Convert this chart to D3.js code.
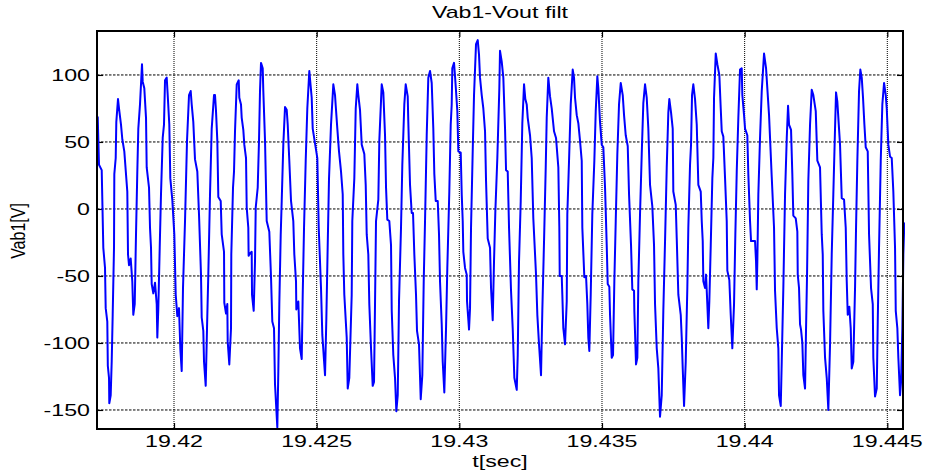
<!DOCTYPE html>
<html><head><meta charset="utf-8">
<script src="https://cdn.jsdelivr.net/npm/d3@7"></script>
<style>body{margin:0;background:#fff}svg{display:block}</style>
</head><body><svg id="c" width="929" height="471"></svg>
<script>
const titleText = "Vab1-Vout filt";
const xLabelText = "t[sec]";
const yLabelText = "Vab1[V]";
const xTicks = [19.42, 19.425, 19.43, 19.435, 19.44, 19.445];
const xTickLabels = ["19.42", "19.425", "19.43", "19.435", "19.44", "19.445"];
const yTicks = [-150, -100, -50, 0, 50, 100];
const yTickLabels = ["-150", "-100", "-50", "0", "50", "100"];
const xDomain = [19.417301, 19.44555];
const yDomain = [-164.2, 132.8];

const time = [
19.417326,19.417371,19.417466,19.417522,19.417582,19.417606,19.417662,19.417680,19.417722,19.417732,
19.417781,19.417816,19.417851,19.417897,19.417908,19.417957,19.417978,19.418037,19.418072,19.418142,
19.418188,19.418258,19.418363,19.418388,19.418423,19.418482,19.418538,19.418573,19.418623,19.418668,
19.418714,19.418749,19.418808,19.418878,19.418903,19.418959,19.419019,19.419043,19.419124,19.419159,
19.419194,19.419218,19.419274,19.419334,19.419394,19.419415,19.419450,19.419499,19.419544,19.419604,
19.419649,19.419685,19.419744,19.419779,19.419835,19.419870,19.419940,19.420011,19.420060,19.420116,
19.420175,19.420221,19.420270,19.420315,19.420386,19.420456,19.420526,19.420585,19.420620,19.420676,
19.420736,19.420817,19.420876,19.420946,19.420971,19.421027,19.421052,19.421111,19.421157,19.421202,
19.421262,19.421321,19.421402,19.421437,19.421472,19.421518,19.421553,19.421637,19.421672,19.421753,
19.421763,19.421823,19.421868,19.421882,19.421938,19.421998,19.422008,19.422068,19.422103,19.422138,
19.422198,19.422268,19.422289,19.422348,19.422373,19.422429,19.422464,19.422524,19.422548,19.422604,
19.422615,19.422664,19.422723,19.422734,19.422793,19.422839,19.422864,19.422934,19.422979,19.423014,
19.423049,19.423109,19.423130,19.423190,19.423249,19.423340,19.423400,19.423445,19.423505,19.423540,
19.423621,19.423656,19.423691,19.423740,19.423775,19.423831,19.423891,19.423950,19.423985,19.424041,
19.424101,19.424181,19.424217,19.424276,19.424287,19.424357,19.424416,19.424476,19.424511,19.424557,
19.424616,19.424672,19.424742,19.424826,19.424861,19.424942,19.425023,19.425072,19.425152,19.425198,
19.425293,19.425338,19.425387,19.425433,19.425503,19.425584,19.425643,19.425668,19.425724,19.425783,
19.425853,19.425913,19.425934,19.425969,19.426053,19.426088,19.426144,19.426228,19.426249,19.426320,
19.426369,19.426425,19.426460,19.426519,19.426579,19.426670,19.426719,19.426754,19.426810,19.426845,
19.426905,19.426964,19.427010,19.427045,19.427080,19.427161,19.427196,19.427280,19.427336,19.427396,
19.427431,19.427476,19.427546,19.427606,19.427631,19.427686,19.427746,19.427792,19.427841,19.427886,
19.427956,19.428002,19.428072,19.428121,19.428191,19.428212,19.428272,19.428331,19.428377,19.428423,
19.428482,19.428517,19.428587,19.428647,19.428703,19.428752,19.428798,19.428857,19.428913,19.428973,
19.429032,19.429088,19.429124,19.429173,19.429243,19.429288,19.429323,19.429383,19.429418,19.429474,
19.429534,19.429579,19.429649,19.429698,19.429733,19.429754,19.429814,19.429849,19.429884,19.429930,
19.429965,19.430049,19.430084,19.430119,19.430140,19.430200,19.430259,19.430270,19.430340,19.430375,
19.430410,19.430469,19.430515,19.430585,19.430645,19.430690,19.430725,19.430785,19.430841,19.430901,
19.430936,19.430995,19.431076,19.431111,19.431170,19.431216,19.431262,19.431332,19.431402,19.431426,
19.431486,19.431542,19.431602,19.431637,19.431696,19.431742,19.431812,19.431871,19.431928,19.432012,
19.432047,19.432092,19.432152,19.432208,19.432268,19.432313,19.432362,19.432397,19.432478,19.432537,
19.432593,19.432688,19.432734,19.432793,19.432863,19.432909,19.432969,19.433028,19.433063,19.433119,
19.433179,19.433238,19.433319,19.433389,19.433470,19.433505,19.433519,19.433589,19.433610,19.433645,
19.433705,19.433764,19.433785,19.433845,19.433904,19.433974,19.434020,19.434055,19.434115,19.434171,
19.434230,19.434290,19.434311,19.434381,19.434441,19.434486,19.434521,19.434556,19.434605,19.434661,
19.434732,19.434781,19.434837,19.434872,19.434931,19.434991,19.435047,19.435107,19.435166,19.435201,
19.435257,19.435282,19.435341,19.435387,19.435433,19.435482,19.435538,19.435597,19.435657,19.435727,
19.435773,19.435832,19.435902,19.435948,19.436018,19.436063,19.436123,19.436134,19.436193,19.436239,
19.436274,19.436333,19.436393,19.436449,19.436509,19.436568,19.436624,19.436684,19.436764,19.436824,
19.436859,19.436919,19.436975,19.437034,19.437094,19.437150,19.437210,19.437269,19.437325,19.437360,
19.437420,19.437479,19.437500,19.437585,19.437620,19.437676,19.437760,19.437795,19.437830,19.437876,
19.437935,19.437991,19.438026,19.438086,19.438121,19.438156,19.438201,19.438261,19.438321,19.438377,
19.438461,19.438496,19.438531,19.438552,19.438612,19.438647,19.438692,19.438727,19.438762,19.438812,
19.438868,19.438903,19.438927,19.438987,19.439043,19.439113,19.439162,19.439197,19.439253,19.439313,
19.439372,19.439393,19.439463,19.439512,19.439568,19.439628,19.439674,19.439723,19.439779,19.439838,
19.439898,19.439919,19.439979,19.440014,19.440094,19.440129,19.440189,19.440224,19.440364,19.440399,
19.440424,19.440445,19.440480,19.440539,19.440599,19.440680,19.440750,19.440795,19.440855,19.440890,
19.440949,19.441030,19.441065,19.441125,19.441181,19.441205,19.441265,19.441300,19.441356,19.441416,
19.441476,19.441521,19.441556,19.441626,19.441671,19.441706,19.441791,19.441847,19.441861,19.441906,
19.441941,19.441976,19.442022,19.442057,19.442117,19.442152,19.442187,19.442232,19.442292,19.442351,
19.442407,19.442492,19.442548,19.442642,19.442702,19.442737,19.442758,19.442818,19.442877,19.442933,
19.442993,19.443052,19.443108,19.443168,19.443203,19.443249,19.443284,19.443343,19.443403,19.443484,
19.443543,19.443578,19.443613,19.443669,19.443718,19.443753,19.443809,19.443869,19.443904,19.443950,
19.444009,19.444055,19.444104,19.444149,19.444197,19.444244,19.444314,19.444360,19.444430,19.444490,
19.444510,19.444570,19.444630,19.444665,19.444710,19.444770,19.444826,19.444886,19.444945,19.444980,
19.445036,19.445096,19.445155,19.445211,19.445271,19.445296,19.445352,19.445387,19.445446,19.445481,
19.445527,19.445562,19.445597
];

const vab1 = [
69,33,29,-29,-44,-74,-84,-117,-126,-145,
-139,-114,-79,-29,26,38,65,82,75,63,
52,43,13,-34,-42,-37,-54,-79,-71,-19,
28,60,78,108,95,90,68,31,16,-14,
-29,-56,-63,-55,-71,-96,-74,-29,11,53,
63,96,98,85,63,23,7,-19,-64,-80,
-74,-104,-121,-59,-9,51,85,88,78,65,
37,28,-4,-49,-81,-91,-114,-132,-89,-49,
11,60,85,85,73,51,9,6,-19,-32,
-70,-78,-71,-99,-116,-89,-34,16,28,58,
93,96,83,78,68,59,48,38,1,-14,
-35,-33,-32,-64,-76,-39,1,16,51,88,
109,105,88,51,-9,-17,-51,-84,-89,-131,
-163,-121,-71,-19,6,48,76,74,63,36,
6,-9,-34,-54,-75,-69,-104,-112,-64,-14,
36,75,103,83,60,49,38,-14,-59,-94,
-124,-83,-27,23,63,93,85,77,60,43,
28,11,-34,-64,-96,-134,-126,-64,-9,23,
75,93,85,74,48,41,18,-19,-34,-71,
-104,-132,-129,-71,-9,7,51,93,87,55,
16,-8,-9,-27,-76,-109,-126,-151,-139,-69,
-14,33,78,93,84,65,18,-3,-3,-34,
-64,-91,-101,-142,-124,-54,-9,55,98,103,
94,60,26,6,6,-19,-54,-86,-114,-137,
-89,-44,13,63,78,105,109,99,88,73,
43,42,11,-9,-32,-44,-49,-69,-90,-74,
-14,43,85,123,126,115,98,85,75,58,
21,-22,-29,-59,-83,-39,-2,38,90,118,
110,98,60,29,28,-14,-61,-89,-126,-135,
-109,-39,6,64,93,82,78,68,55,38,
-7,-49,-79,-101,-124,-76,-24,31,68,98,
84,75,58,53,31,-14,-50,-50,-64,-89,
-101,-69,-4,36,78,104,98,83,70,64,
51,36,-14,-51,-50,-71,-96,-106,-64,-4,
36,73,99,90,65,48,46,16,-27,-56,
-58,-79,-111,-109,-54,-9,41,78,94,85,
70,55,47,11,-27,-60,-61,-76,-116,-111,
-54,-4,41,79,93,83,60,18,2,-27,
-71,-104,-119,-155,-139,-76,-24,31,72,82,
72,60,13,3,-22,-64,-79,-96,-119,-147,
-114,-59,-14,33,48,85,93,82,63,18,
13,-9,-24,-54,-59,-49,-71,-89,-69,-27,
23,38,83,116,108,100,75,58,54,23,
-9,-46,-53,-79,-104,-71,-19,28,68,104,
105,85,70,60,55,26,-9,-24,-24,-39,
-60,-39,11,53,88,116,105,90,70,53,
24,-14,-61,-89,-104,-139,-147,-114,-59,11,
53,77,63,59,26,-5,-7,-17,-49,-59,
-86,-90,-100,-124,-134,-89,-49,21,63,89,
85,73,36,31,-19,-34,-76,-111,-126,-150,
-101,-34,11,60,87,80,68,48,8,7,
-14,-54,-79,-73,-89,-119,-114,-59,-14,36,
88,104,98,83,63,46,43,-19,-59,-71,
-111,-140,-134,-84,-29,36,78,94,85,75,
48,39,38,13,-29,-76,-89,-111,-139,-129,
-89,-34,-10
];

const svg = d3.select("#c");
const plot = {l: 97, r: 903, t: 31, b: 429};
const x = d3.scaleLinear().domain(xDomain).range([plot.l, plot.r]);
const y = d3.scaleLinear().domain(yDomain).range([plot.b, plot.t]);
const SX = 1.45;
const font = "'Liberation Sans', Arial, Helvetica, sans-serif";

svg.append("rect").attr("width", 929).attr("height", 471).attr("fill", "#fff");

// grid
const grid = svg.append("g");
grid.selectAll(".gx").data(xTicks).join("line")
  .attr("x1", d => x(d)).attr("x2", d => x(d))
  .attr("y1", plot.t).attr("y2", plot.b)
  .attr("stroke", "#000").attr("stroke-width", 1)
  .attr("stroke-dasharray", "1,1");
grid.selectAll(".gy").data(yTicks).join("line")
  .attr("x1", plot.l).attr("x2", plot.r)
  .attr("y1", d => y(d)).attr("y2", d => y(d))
  .attr("stroke", "#000").attr("stroke-width", 1)
  .attr("stroke-dasharray", "2.5,1.5");

// axes with inward ticks (all four sides)
const tl = 6;
const axB = d3.axisBottom(x).tickValues(xTicks).tickSize(-tl).tickFormat("");
const axT = d3.axisTop(x).tickValues(xTicks).tickSize(-tl).tickFormat("");
const axL = d3.axisLeft(y).tickValues(yTicks).tickSize(-tl).tickFormat("");
const axR = d3.axisRight(y).tickValues(yTicks).tickSize(-tl).tickFormat("");
[[axB, `translate(0,${plot.b})`], [axT, `translate(0,${plot.t})`],
 [axL, `translate(${plot.l},0)`], [axR, `translate(${plot.r},0)`]].forEach(([a, tr]) => {
  const g = svg.append("g").attr("transform", tr).call(a);
  g.select(".domain").remove();
  g.selectAll(".tick line").attr("stroke", "#000").attr("stroke-width", 1.2);
});

// data line
svg.append("defs").append("clipPath").attr("id", "clip")
  .append("rect").attr("x", plot.l).attr("y", plot.t - 2)
  .attr("width", plot.r - plot.l + 2).attr("height", plot.b - plot.t + 4);
const line = d3.line().x(i => x(time[i])).y(i => y(vab1[i]));
svg.append("path").datum(d3.range(time.length))
  .attr("d", line).attr("clip-path", "url(#clip)")
  .attr("fill", "none").attr("stroke", "#0000ff").attr("stroke-width", 2)
  .attr("stroke-linejoin", "round");

// box
svg.append("rect").attr("x", plot.l).attr("y", plot.t)
  .attr("width", plot.r - plot.l).attr("height", plot.b - plot.t)
  .attr("fill", "none").attr("stroke", "#000").attr("stroke-width", 2);

function stretchedText(tx, ty, str, anchor) {
  svg.append("g").attr("transform", `translate(${tx},${ty}) scale(${SX},1)`)
    .append("text").attr("text-anchor", anchor)
    .attr("font-family", font).attr("font-size", 16).attr("fill", "#000")
    .text(str);
}

// tick labels
xTicks.forEach((v, i) => stretchedText(x(v), 447, xTickLabels[i], "middle"));
yTicks.forEach((v, i) => stretchedText(90, y(v) + 6, yTickLabels[i], "end"));

// titles
stretchedText((plot.l + plot.r) / 2, 18, titleText, "middle");
stretchedText((plot.l + plot.r) / 2, 467, xLabelText, "middle");
svg.append("text")
  .attr("transform", `translate(25,231) scale(1.3,1) rotate(-90)`)
  .attr("text-anchor", "middle")
  .attr("font-family", font).attr("font-size", 16).attr("fill", "#000")
  .text(yLabelText);
</script></body></html>
